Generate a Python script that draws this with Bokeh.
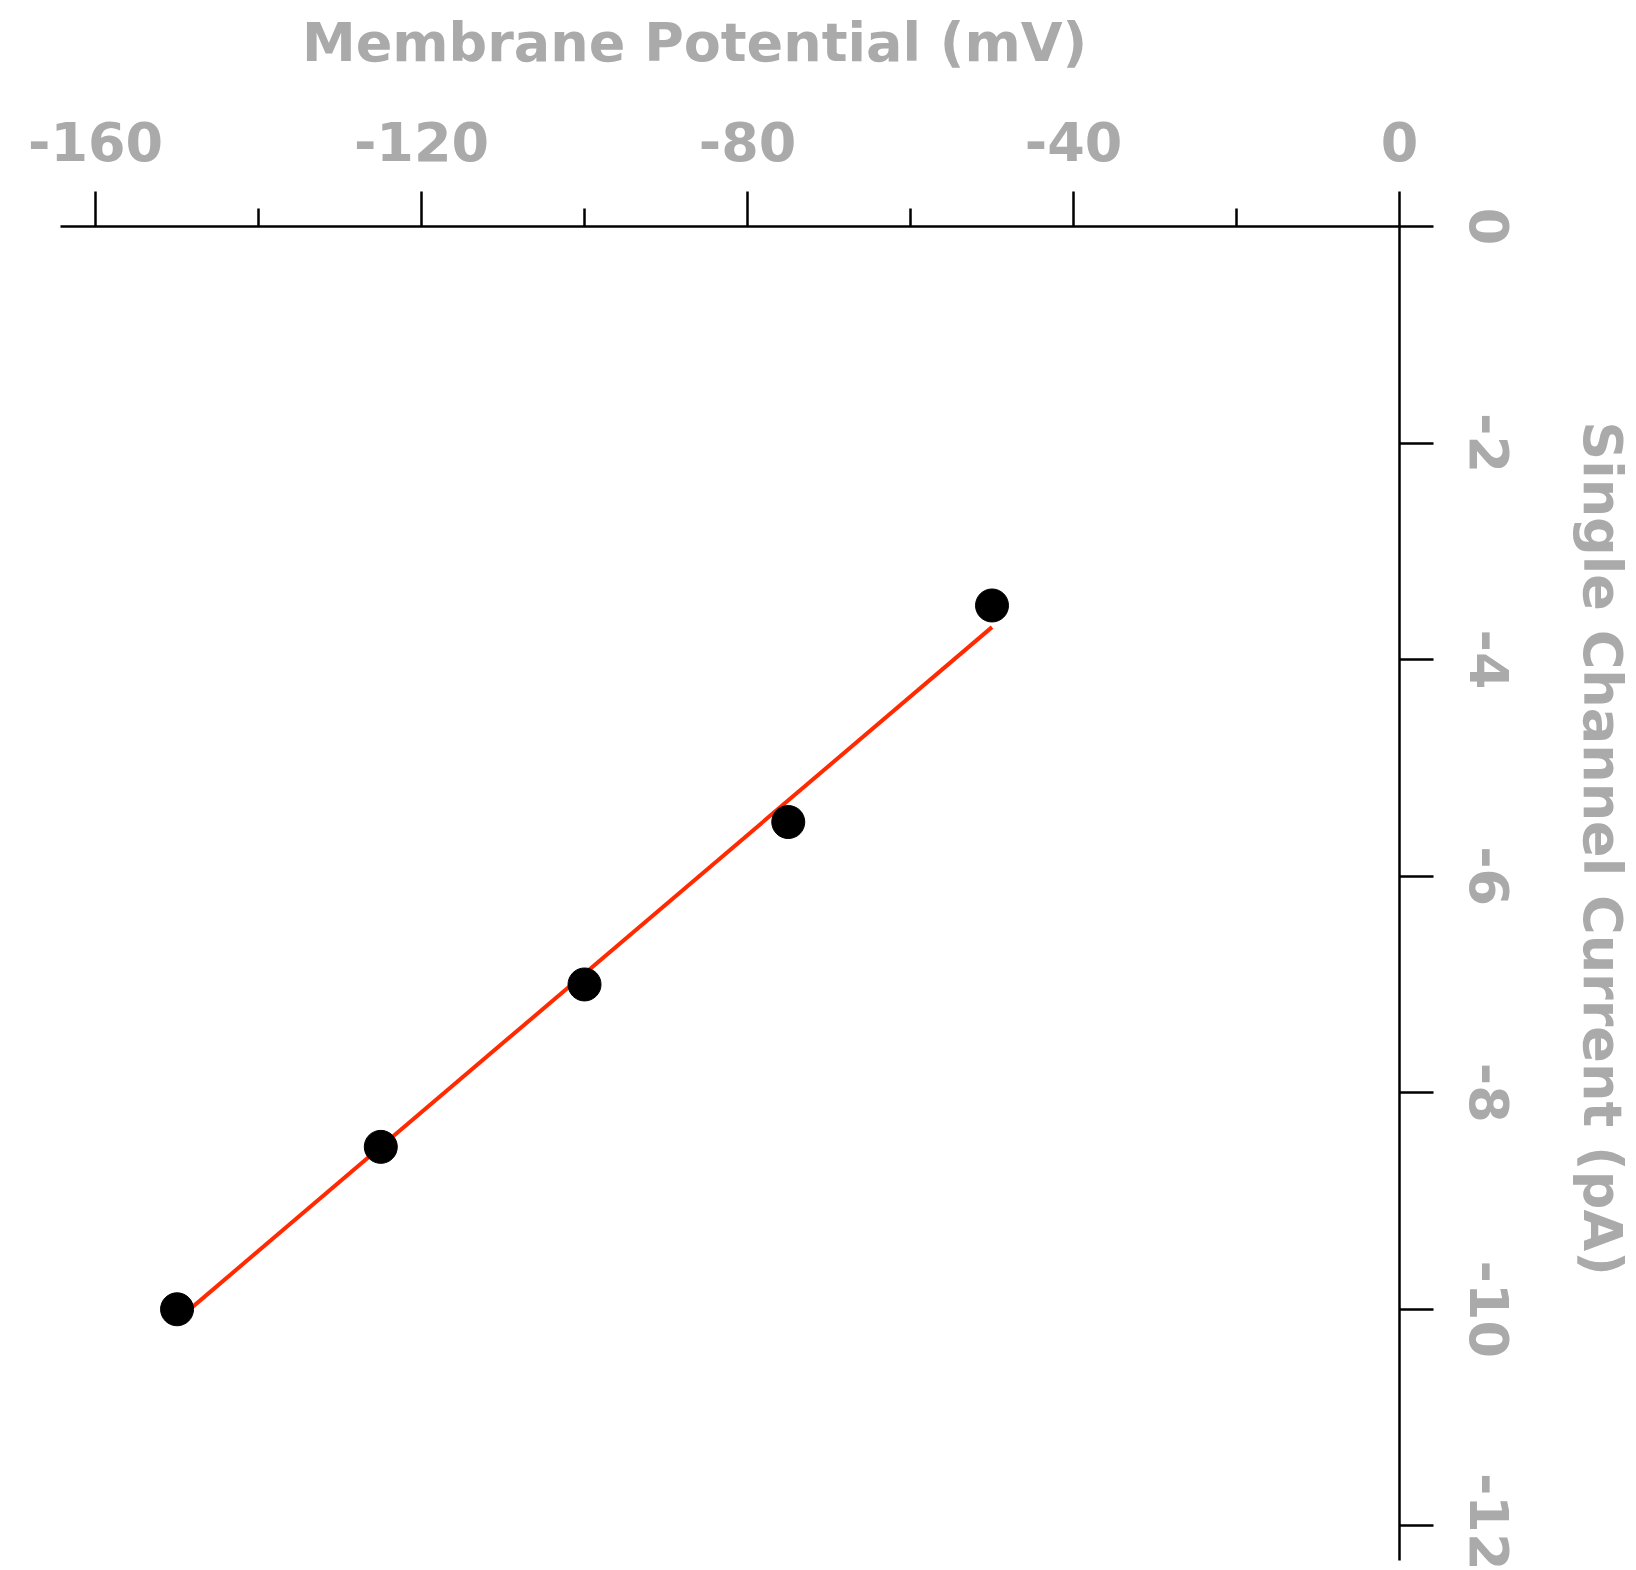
import math
from bokeh.plotting import figure
from bokeh.models import Range1d, LinearAxis, FixedTicker, Label, CustomJSTickFormatter
from bokeh.embed import file_html
from bokeh.resources import INLINE

# Data
potential_mv = [-150, -125, -100, -75, -50]
current_pa = [-10.0, -8.5, -7.0, -5.5, -3.5]
fit_x = [-150, -50]
fit_y = [-10.1, -3.7]

x_ticks = [-160, -120, -80, -40, 0]
x_minor = [-140, -100, -60, -20]
y_ticks = [0, -2, -4, -6, -8, -10, -12]

x_title = "Membrane Potential (mV)"
y_title = "Single Channel Current (pA)"

FONT = "DejaVu Sans"
GREY = "#aaaaaa"

p = figure(width=1636, height=1570,
           x_range=Range1d(-164.3, 0), y_range=Range1d(-12.32, 0),
           x_axis_location=None, y_axis_location=None,
           output_backend="svg", toolbar_location=None,
           min_border_left=60, min_border_right=237,
           min_border_top=226, min_border_bottom=10)
p.grid.grid_line_color = None
p.outline_line_color = None
p.background_fill_color = "white"
p.border_fill_color = "white"

fmt = CustomJSTickFormatter(code="return String(tick);")

xaxis = LinearAxis(ticker=FixedTicker(ticks=x_ticks, minor_ticks=x_minor), formatter=fmt)
xaxis.axis_line_width = 2.5
xaxis.axis_line_color = "black"
xaxis.major_tick_in = 0
xaxis.major_tick_out = 35
xaxis.minor_tick_in = 0
xaxis.minor_tick_out = 18
xaxis.major_tick_line_width = 2.5
xaxis.minor_tick_line_width = 2.5
xaxis.major_label_text_font = FONT
xaxis.major_label_text_font_style = "bold"
xaxis.major_label_text_font_size = "54px"
xaxis.major_label_text_color = GREY
xaxis.major_label_standoff = 31
p.add_layout(xaxis, "above")

yaxis = LinearAxis(ticker=FixedTicker(ticks=y_ticks, minor_ticks=[]), formatter=fmt)
yaxis.axis_line_width = 2.5
yaxis.axis_line_color = "black"
yaxis.major_tick_in = 0
yaxis.major_tick_out = 34
yaxis.minor_tick_line_color = None
yaxis.major_tick_line_width = 2.5
yaxis.major_label_text_font = FONT
yaxis.major_label_text_font_style = "bold"
yaxis.major_label_text_font_size = "54px"
yaxis.major_label_text_color = GREY
yaxis.major_label_orientation = "parallel"
yaxis.major_label_standoff = 36
p.add_layout(yaxis, "right")

p.line(fit_x, fit_y, line_color="#ff2a00", line_width=4)
p.scatter(potential_mv, current_pa, size=33, fill_color="black", line_color="black")

# Axis titles placed in the side panels (data coordinates, outside the frame)
p.add_layout(Label(x=-86.5, y=1.70, text=x_title, text_align="center",
                   text_baseline="alphabetic", text_font=FONT,
                   text_font_style="bold", text_font_size="54px",
                   text_color=GREY), "above")
p.add_layout(Label(x=24.86, y=-5.745, text=y_title, angle=-math.pi / 2,
                   text_align="center", text_baseline="alphabetic",
                   text_font=FONT, text_font_style="bold",
                   text_font_size="54px", text_color=GREY), "right")

open("out.html", "w").write(file_html(p, INLINE))
